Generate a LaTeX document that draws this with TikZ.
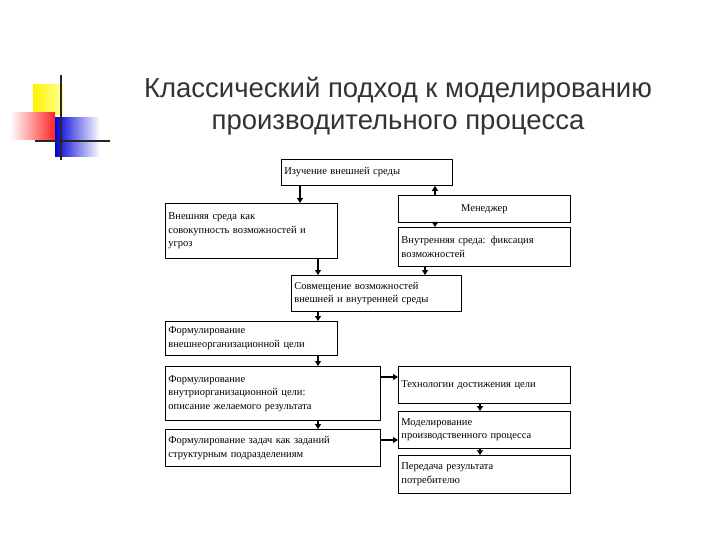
\documentclass[tikz,border=0pt]{standalone}
\usepackage{fontspec}
\setmainfont{Liberation Serif}
\newfontfamily\titlefont{Liberation Sans}
\usetikzlibrary{arrows.meta}
\begin{document}
\begin{tikzpicture}[x=1pt,y=-1pt,
 bx/.style={draw,line width=0.8pt,align=left,font=\fontsize{10.5}{13.5}\selectfont,inner sep=3pt,anchor=north west},
 arr/.style={line width=1.4pt,-{Triangle[length=5pt,width=6pt]}}]
\useasboundingbox (0,0) rectangle (720,540);
% logo
\shade[left color=yellow!90!orange, right color=yellow!40!white] (33,85) rectangle (63,115);
\shade[left color=white, right color=red!85] (10,113) rectangle (55,140);
\shade[left color=blue!85!black, right color=white] (55,118) rectangle (100,157);
\draw[line width=1.8pt,black!85] (61,75) -- (61,160);
\draw[line width=1.8pt,black!85] (35,141) -- (110,141);
% title
\node[font=\titlefont\fontsize{27.5}{32}\selectfont,text=black!80,align=center] (t) at (398,106) {Классический подход к моделированию\\производительного процесса};
% boxes
\node[bx,minimum width=171,minimum height=26,text width=165] (a) at (281,159) {Изучение внешней среды};
\node[bx,minimum width=172,minimum height=55,text width=166] (b) at (165,203) {Внешняя среда как\\совокупность возможностей и\\угроз};
\node[bx,minimum width=172,minimum height=27,text width=166,align=center] (m) at (398,195) {Менеджер};
\node[bx,minimum width=172,minimum height=39,text width=166] (c) at (398,227) {Внутренняя среда: фиксация\\возможностей};
\node[bx,minimum width=170,minimum height=36,text width=164] (d) at (291,275) {Совмещение возможностей\\внешней и внутренней среды};
\node[bx,minimum width=172,minimum height=34,text width=166] (e) at (165,321) {Формулирование\\внешнеорганизационной цели};
\node[bx,minimum width=215,minimum height=54,text width=209] (f) at (165,366) {Формулирование\\внутриорганизационной цели:\\описание желаемого результата};
\node[bx,minimum width=215,minimum height=37,text width=209] (g) at (165,429) {Формулирование задач как заданий\\структурным подразделениям};
\node[bx,minimum width=172,minimum height=37,text width=166] (h) at (398,366) {Технологии достижения цели\\[10pt]};
\node[bx,minimum width=172,minimum height=37,text width=166] (k) at (398,411) {Моделирование\\производственного процесса};
\node[bx,minimum width=172,minimum height=38,text width=166] (l) at (398,455) {Передача результата\\потребителю};
% coordinates
\coordinate (x300) at (300,0);
\coordinate (x318) at (318,0);
\coordinate (x425) at (425,0);
\coordinate (x435) at (435,0);
\coordinate (x480) at (480,0);
\coordinate (y377) at (0,377);
\coordinate (y440) at (0,440);
% arrows
\draw[arr] (a.south -| x300) -- (b.north -| x300);
\draw[arr] (m.north -| x435) -- (a.south -| x435);
\draw[arr] (m.south -| x435) -- (c.north -| x435);
\draw[arr] (b.south -| x318) -- (d.north -| x318);
\draw[arr] (c.south -| x425) -- (d.north -| x425);
\draw[arr] (d.south -| x318) -- (e.north -| x318);
\draw[arr] (e.south -| x318) -- (f.north -| x318);
\draw[arr] (f.south -| x318) -- (g.north -| x318);
\draw[arr] (f.east |- y377) -- (h.west |- y377);
\draw[arr] (g.east |- y440) -- (k.west |- y440);
\draw[arr] (h.south -| x480) -- (k.north -| x480);
\draw[arr] (k.south -| x480) -- (l.north -| x480);
\end{tikzpicture}
\end{document}
